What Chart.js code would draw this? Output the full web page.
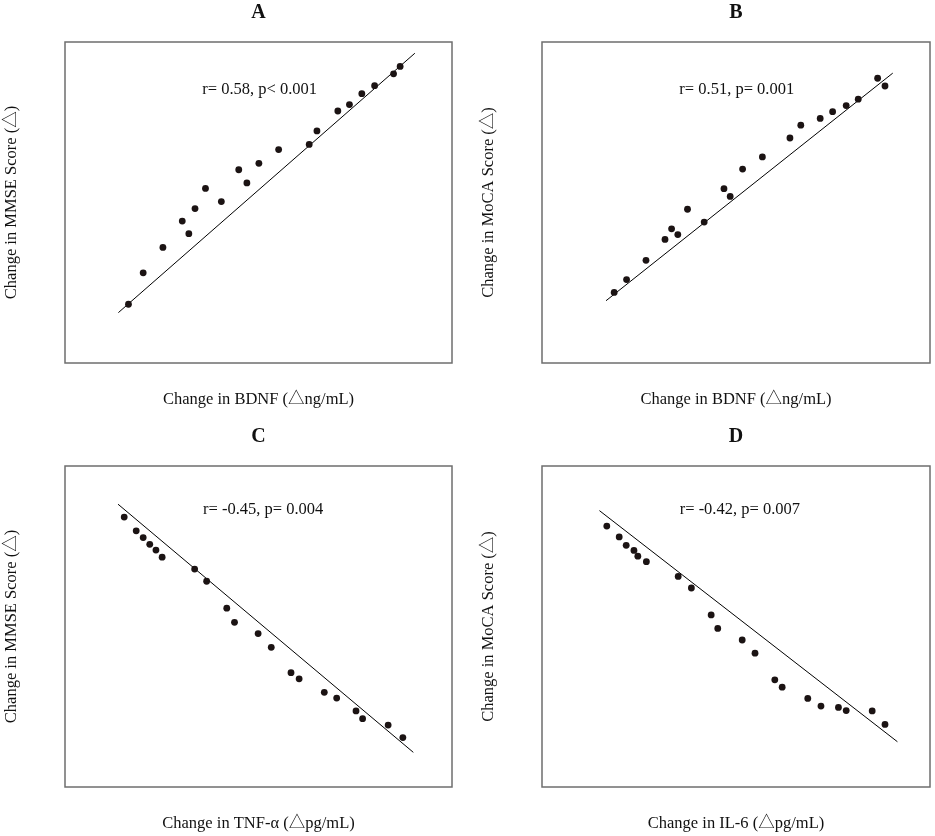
<!DOCTYPE html>
<html>
<head>
<meta charset="utf-8">
<script src="https://cdn.jsdelivr.net/npm/chart.js@4.4.1/dist/chart.umd.min.js"></script>
<style>
html,body{margin:0;padding:0;background:#fff;width:935px;height:836px;overflow:hidden;}
canvas{position:absolute;}
</style>
</head>
<body>
<canvas id="cA" width="467" height="420" style="left:0;top:0"></canvas>
<canvas id="cB" width="468" height="420" style="left:467px;top:0"></canvas>
<canvas id="cC" width="467" height="416" style="left:0;top:420px"></canvas>
<canvas id="cD" width="468" height="416" style="left:467px;top:420px"></canvas>
<script>
// ---- labels ----
const panelTitles = ['A', 'B', 'C', 'D'];
const xTitles = ['Change in BDNF (△ng/mL)', 'Change in BDNF (△ng/mL)', 'Change in TNF-α (△pg/mL)', 'Change in IL-6 (△pg/mL)'];
const yTitles = ['Change in MMSE Score (△)', 'Change in MoCA Score (△)', 'Change in MMSE Score (△)', 'Change in MoCA Score (△)'];
const statLabels = ['r= 0.58, p< 0.001', 'r= 0.51, p= 0.001', 'r= -0.45, p= 0.004', 'r= -0.42, p= 0.007'];

// ---- data (relative units, 0-100 across the plot frame) ----
const aX = [16.4, 20.2, 25.3, 30.3, 32.0, 33.6, 36.3, 40.4, 44.9, 47.0, 50.1, 55.2, 63.1, 65.1, 70.5, 73.5, 76.7, 80.0, 84.9, 86.6];
const aY = [18.3, 28.1, 36.0, 44.2, 40.3, 48.1, 54.4, 50.3, 60.2, 56.1, 62.2, 66.5, 68.1, 72.3, 78.5, 80.5, 83.9, 86.4, 90.1, 92.4];
const aFitX = [13.8, 90.4];
const aFitY = [15.7, 96.5];

const bX = [18.6, 21.8, 26.8, 31.7, 33.4, 35.0, 37.5, 41.8, 46.9, 48.5, 51.7, 56.8, 63.9, 66.7, 71.7, 74.9, 78.4, 81.5, 86.5, 88.4];
const bY = [22.0, 26.0, 32.0, 38.5, 41.8, 40.0, 47.9, 43.9, 54.3, 51.9, 60.4, 64.2, 70.1, 74.1, 76.2, 78.3, 80.2, 82.2, 88.7, 86.3];
const bFitX = [16.5, 90.4];
const bFitY = [19.4, 90.3];

const cX = [15.3, 18.4, 20.2, 21.9, 23.5, 25.1, 33.5, 36.6, 41.8, 43.8, 49.9, 53.3, 58.4, 60.5, 67.0, 70.2, 75.2, 76.9, 83.5, 87.3];
const cY = [84.1, 79.8, 77.7, 75.6, 73.8, 71.6, 67.9, 64.1, 55.7, 51.3, 47.8, 43.5, 35.6, 33.7, 29.5, 27.7, 23.7, 21.3, 19.3, 15.4];
const cFitX = [13.7, 90.0];
const cFitY = [88.1, 10.8];

const dX = [16.7, 19.9, 21.7, 23.7, 24.7, 26.9, 35.1, 38.5, 43.6, 45.3, 51.6, 54.9, 60.0, 61.9, 68.5, 71.9, 76.4, 78.4, 85.1, 88.4];
const dY = [81.3, 77.9, 75.3, 73.7, 71.9, 70.2, 65.6, 62.0, 53.6, 49.4, 45.8, 41.7, 33.4, 31.1, 27.6, 25.2, 24.8, 23.8, 23.7, 19.5];
const dFitX = [14.8, 91.6];
const dFitY = [86.1, 14.1];

const allX = [aX, bX, cX, dX];
const allY = [aY, bY, cY, dY];
const fitX = [aFitX, bFitX, cFitX, dFitX];
const fitY = [aFitY, bFitY, cFitY, dFitY];
const statPos = [[50.3, 85.0], [50.2, 85.0], [51.2, 86.3], [51.0, 86.3]];

// ---- layout per panel ----
const canvasIds = ['cA', 'cB', 'cC', 'cD'];
const layouts = [
  {pad: {left: 0, right: 15, top: 0, bottom: 6.8}, title: {top: 1, bottom: 17}, yt: {top: 2.1, bottom: 43.1}, xt: {top: 26.4, bottom: 4}},
  {pad: {left: 0, right: 5, top: 0, bottom: 6.8}, title: {top: 1, bottom: 17}, yt: {top: 11.4, bottom: 43.8}, xt: {top: 26.4, bottom: 4}},
  {pad: {left: 0, right: 15, top: 0, bottom: 0.8}, title: {top: 4.7, bottom: 17.3}, yt: {top: 2.1, bottom: 43.1}, xt: {top: 26.4, bottom: 2}},
  {pad: {left: 0, right: 5, top: 0, bottom: 0.8}, title: {top: 4.7, bottom: 17.3}, yt: {top: 11.4, bottom: 43.8}, xt: {top: 26.4, bottom: 2}}
];

const FONT = "'Liberation Serif', 'Noto Sans CJK SC', 'Times New Roman', serif";

const framePlugin = {
  id: 'frame',
  afterDraw(chart) {
    const a = chart.chartArea, ctx = chart.ctx;
    ctx.save();
    ctx.strokeStyle = '#6e6e6e';
    ctx.lineWidth = 1.5;
    ctx.strokeRect(a.left, a.top, a.right - a.left, a.bottom - a.top);
    ctx.restore();
  }
};

const statPlugin = {
  id: 'statText',
  afterDatasetsDraw(chart, args, opts) {
    const ctx = chart.ctx, xs = chart.scales.x, ys = chart.scales.y;
    ctx.save();
    ctx.font = '16.5px ' + FONT;
    ctx.fillStyle = '#111';
    ctx.textAlign = 'center';
    ctx.textBaseline = 'middle';
    ctx.fillText(opts.text, xs.getPixelForValue(opts.x), ys.getPixelForValue(opts.y));
    ctx.restore();
  }
};

for (let i = 0; i < 4; i++) {
  const pts = allX[i].map((v, k) => ({x: v, y: allY[i][k]}));
  const fit = fitX[i].map((v, k) => ({x: v, y: fitY[i][k]}));
  const L = layouts[i];
  new Chart(document.getElementById(canvasIds[i]), {
    type: 'scatter',
    data: {
      datasets: [
        {
          type: 'line', data: fit, borderColor: '#000', borderWidth: 1,
          pointRadius: 0, fill: false, showLine: true, order: 2
        },
        {
          data: pts, backgroundColor: '#1b1313', borderColor: '#1b1313', borderWidth: 0,
          pointRadius: 3.4, order: 1
        }
      ]
    },
    options: {
      responsive: false,
      animation: false,
      events: [],
      layout: {padding: L.pad},
      scales: {
        x: {
          type: 'linear', min: 0, max: 100,
          ticks: {display: false},
          grid: {display: false, drawTicks: false},
          border: {display: false},
          title: {display: true, text: xTitles[i], color: '#111',
                  font: {family: FONT, size: 16.5, lineHeight: 1.2}, padding: L.xt}
        },
        y: {
          type: 'linear', min: 0, max: 100,
          ticks: {display: false},
          grid: {display: false, drawTicks: false},
          border: {display: false},
          title: {display: true, text: yTitles[i], color: '#111',
                  font: {family: FONT, size: 16.5, lineHeight: 1.2}, padding: L.yt}
        }
      },
      plugins: {
        legend: {display: false},
        tooltip: {enabled: false},
        title: {
          display: true, text: panelTitles[i], fullSize: false, color: '#111',
          font: {family: FONT, size: 20, weight: 'bold', lineHeight: 1.2}, padding: L.title
        },
        statText: {text: statLabels[i], x: statPos[i][0], y: statPos[i][1]}
      }
    },
    plugins: [framePlugin, statPlugin]
  });
}
</script>
</body>
</html>
